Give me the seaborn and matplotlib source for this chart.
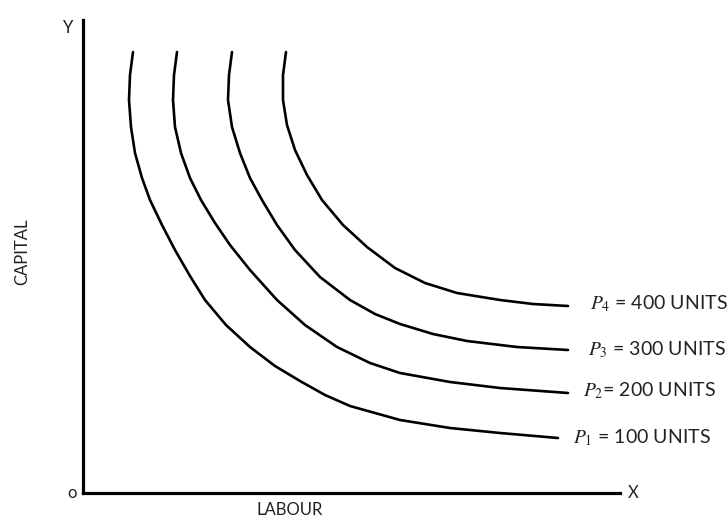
import matplotlib
matplotlib.use("Agg")
import matplotlib.pyplot as plt
import seaborn as sns
import pandas as pd

# Isoquant curves (x = labour, y = capital, pixel-like units from origin)
p1_x = [50, 47, 46, 48, 52, 59, 67, 79, 92, 107, 122, 143, 167, 192, 217, 242, 267, 317, 367, 417, 475]
p1_y = [441, 418, 393, 366, 340, 315, 293, 268, 243, 217, 193, 168, 146, 127, 112, 98, 87, 73, 65, 60, 55]
p2_x = [94, 91, 90, 92, 98, 107, 118, 132, 147, 167, 194, 222, 254, 287, 317, 367, 417, 485]
p2_y = [441, 418, 393, 366, 340, 315, 293, 270, 248, 223, 193, 168, 146, 130, 120, 111, 105, 100]
p3_x = [149, 146, 145, 149, 157, 167, 179, 194, 212, 237, 267, 292, 317, 350, 384, 434, 485]
p3_y = [441, 418, 393, 366, 340, 315, 293, 268, 243, 216, 193, 179, 169, 159, 152, 146, 143]
p4_x = [203, 200, 200, 204, 212, 224, 239, 260, 284, 312, 342, 374, 417, 450, 485]
p4_y = [441, 418, 393, 368, 343, 318, 293, 268, 246, 225, 210, 200, 193, 189, 187]

curve_labels = ["$P_1$ = 100 UNITS", "$P_2$= 200 UNITS", "$P_3$ = 300 UNITS", "$P_4$ = 400 UNITS"]

sns.set_theme(style="white")
plt.rcParams['font.family'] = ['Lato', 'DejaVu Sans']
plt.rcParams['mathtext.fontset'] = 'stix'

W, H = 728, 522
fig = plt.figure(figsize=(W / 100, H / 100), dpi=100)
x0, y0, x1, y1 = 83, 493, 620, 20
ax = fig.add_axes([x0 / W, (H - y0) / H, (x1 - x0) / W, (y0 - y1) / H])
ax.set_xlim(0, x1 - x0)
ax.set_ylim(0, y0 - y1)

xs = [p1_x, p2_x, p3_x, p4_x]
ys = [p1_y, p2_y, p3_y, p4_y]
for cx, cy in zip(xs, ys):
    df = pd.DataFrame({"x": cx, "y": cy})
    sns.lineplot(data=df, x="x", y="y", sort=False, estimator=None, errorbar=None,
                 ax=ax, color="black", linewidth=1.9, clip_on=False,
                 solid_joinstyle="round", solid_capstyle="round")

label_dx = [15, 15, 20, 22]
label_dy = [0, 2, 0, 2]
for i in range(4):
    ax.text(xs[i][-1] + label_dx[i], ys[i][-1] + label_dy[i], curve_labels[i],
            fontsize=14, color="#222222", va="center", ha="left", clip_on=False)

for side in ["top", "right"]:
    ax.spines[side].set_visible(False)
for side in ["left", "bottom"]:
    ax.spines[side].set_linewidth(2.3)
    ax.spines[side].set_color("black")
ax.set_xticks([])
ax.set_yticks([])
ax.set_xlabel("")
ax.set_ylabel("")

fig.text(68 / W, (H - 28) / H, "Y", fontsize=12, color="#222222", ha="center", va="center")
fig.text(72 / W, (H - 493) / H, "o", fontsize=12, color="#222222", ha="center", va="center")
fig.text(633 / W, (H - 493) / H, "X", fontsize=12, color="#222222", ha="center", va="center")
fig.text(290 / W, (H - 510) / H, "LABOUR", fontsize=12, color="#222222", ha="center", va="center")
fig.text(22 / W, (H - 252) / H, "CAPITAL", fontsize=12, color="#222222", ha="center", va="center",
         rotation=90)

fig.savefig("out.png", dpi=100, facecolor="white")
